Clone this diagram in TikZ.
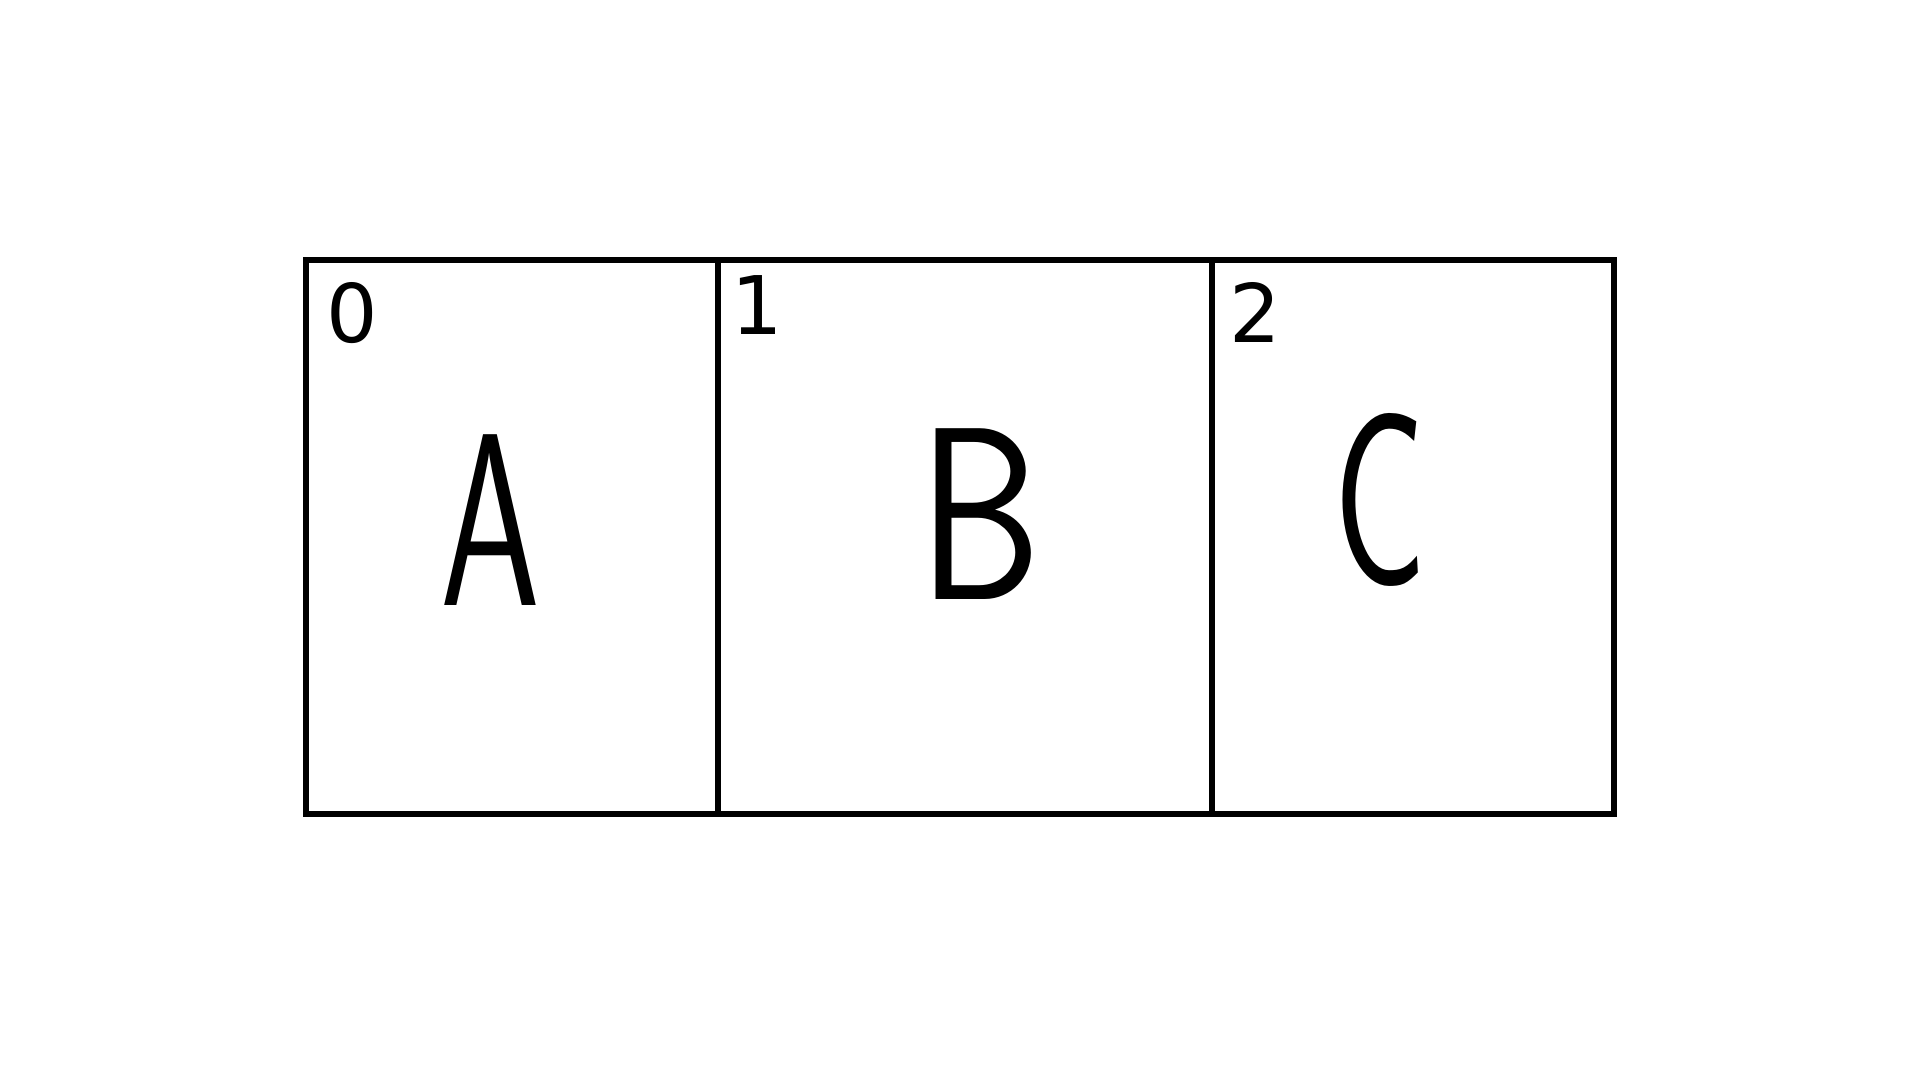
\documentclass[tikz,border=0pt]{standalone}
\usepackage{fontspec}
\setmainfont{DejaVu Sans}
\begin{document}
\begin{tikzpicture}[x=0.01cm,y=-0.01cm,
  cell/.style={draw, line width=1.7pt, inner sep=0pt},
  letter/.style={font=\fontsize{70}{72}\selectfont\sffamily, inner sep=0pt},
  idx/.style={font=\fontsize{23}{25}\selectfont, inner sep=0pt}]
\useasboundingbox (0,0) rectangle (1920,1080);
\node[cell, minimum width=4.12cm, minimum height=5.54cm] (c0) at (512,537) {};
\node[cell, minimum width=4.94cm, minimum height=5.54cm] (c1) at (965,537) {};
\node[cell, minimum width=4.02cm, minimum height=5.54cm] (c2) at (1413,537) {};
\node[letter, xscale=0.65] (A) at (490,520) {A};
\node[letter, xscale=0.8] (B) at (980,514) {B};
\node[letter, xscale=0.63] (C) at (1380,500) {C};
\node[idx] (i0) at (352,313) {0};
\node[idx] (i1) at (757,305) {1};
\node[idx] (i2) at (1255,312) {2};
\end{tikzpicture}
\end{document}
